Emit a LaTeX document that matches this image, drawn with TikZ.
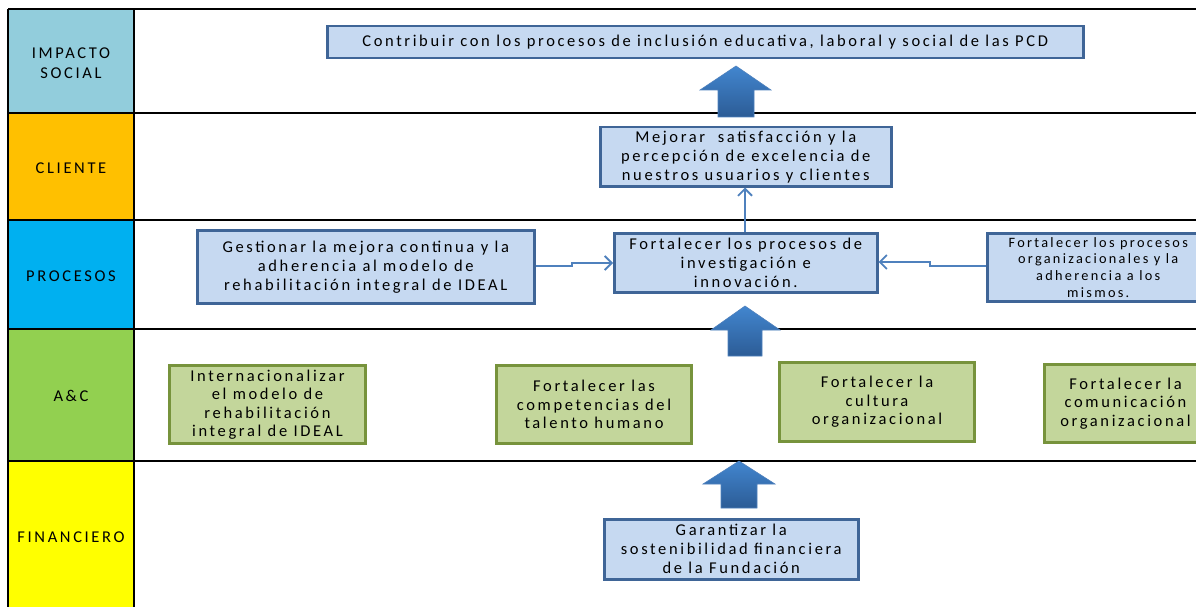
\documentclass[tikz,border=0pt]{standalone}
\usepackage{fontspec}
\setmainfont{Carlito}[LetterSpace=16]
\newfontfamily\boxfont{Carlito}[LetterSpace=16]
\usetikzlibrary{arrows.meta}
\definecolor{impblue}{HTML}{92CDDC}
\definecolor{cliorange}{HTML}{FFC000}
\definecolor{procblue}{HTML}{00B0F0}
\definecolor{acgreen}{HTML}{92D050}
\definecolor{finyellow}{HTML}{FFFF00}
\definecolor{boxfill}{HTML}{C6D9F1}
\definecolor{boxline}{HTML}{3F6597}
\definecolor{gfill}{HTML}{C3D69B}
\definecolor{gline}{HTML}{77933C}
\definecolor{arrtop}{HTML}{4286CF}
\definecolor{arrbot}{HTML}{2C5C96}
\definecolor{conn}{HTML}{4F81BD}
\tikzset{
  lbl/.style={font=\fontsize{16.5}{20}\selectfont, align=center, text=black},
  bluebox/.style={draw=boxline, line width=2.5pt, fill=boxfill, inner sep=0pt, align=center,
    font=\boxfont\fontsize{16.5}{19}\selectfont, anchor=north west},
  greenbox/.style={draw=gline, line width=3pt, fill=gfill, inner sep=0pt, align=center,
    font=\boxfont\fontsize{16.5}{18.5}\selectfont, anchor=north west},
  grid/.style={line width=1.8pt, black},
  conline/.style={draw=conn, line width=1.8pt, -{Straight Barb[length=7pt,width=14pt,line width=1.8pt]}},
  blockarrow/.style={top color=arrtop, bottom color=arrbot, draw=conn, line width=0.6pt},
}
\begin{document}
\begin{tikzpicture}[x=1pt,y=-1pt]
\useasboundingbox (0,0) rectangle (1196,607);
\clip (0,0) rectangle (1196,607);
% left column fills
\fill[impblue] (8,9) rectangle (134,113);
\fill[cliorange] (8,113) rectangle (134,220);
\fill[procblue] (8,220) rectangle (134,329);
\fill[acgreen] (8,329) rectangle (134,461);
\fill[finyellow] (8,461) rectangle (134,610);
% grid lines
\foreach \yy in {9,113,220,329,461} \draw[grid] (8,\yy) -- (1200,\yy);
\draw[grid] (8,9) -- (8,610);
\draw[grid] (134,9) -- (134,610);
% labels
\node[lbl] (limp) at (71,63) {IMPACTO\\SOCIAL};
\node[lbl] (lcli) at (71,168) {CLIENTE};
\node[lbl] (lpro) at (71,276) {PROCESOS};
\node[lbl] (lac) at (71,396) {A\&C};
\node[lbl] (lfin) at (71,537) {FINANCIERO};
% blue boxes
\node[bluebox, minimum width=756pt, minimum height=32pt] (contrib) at (326,25)
  {Contribuir con los procesos de inclusión educativa, laboral y social de las PCD};
\node[bluebox, minimum width=291pt, minimum height=59pt] (mejorar) at (599,126)
  {Mejorar\ \ satisfacción y la\\percepción de excelencia de\\nuestros usuarios y clientes};
\node[bluebox, minimum width=337pt, minimum height=73pt] (gest) at (196,229)
  {Gestionar la mejora continua y la\\adherencia al modelo de\\rehabilitación integral de IDEAL};
\node[bluebox, minimum width=263pt, minimum height=59pt] (inv) at (613,232)
  {Fortalecer los procesos de\\investigación e\\innovación.};
\node[bluebox, minimum width=222pt, minimum height=68pt,
  font=\boxfont\fontsize{14.3}{16.7}\selectfont] (org) at (986,232)
  {Fortalecer los procesos\\organizacionales y la\\adherencia a los\\mismos.};
\node[bluebox, minimum width=254pt, minimum height=60pt] (gar) at (603,518)
  {Garantizar la\\sostenibilidad financiera\\de la Fundación};
% green boxes
\node[greenbox, minimum width=196pt, minimum height=78pt] (intl) at (168,364)
  {Internacionalizar\\el modelo de\\rehabilitación\\integral de IDEAL};
\node[greenbox, minimum width=195pt, minimum height=78pt] (talento) at (495,364)
  {Fortalecer las\\competencias del\\talento humano};
\node[greenbox, minimum width=195pt, minimum height=79pt] (cultura) at (778,361)
  {Fortalecer la\\cultura\\organizacional};
\node[greenbox, minimum width=162pt, minimum height=78pt] (comun) at (1043,363)
  {Fortalecer la\\comunicación\\organizacional};
% connectors
\coordinate (g1) at (572,266);
\coordinate (g2) at (572,263);
\draw[conline] (gest.east |- g1) -- (g1) -- (g2) -- (inv.west |- g2);
\coordinate (o1) at (930,266);
\coordinate (o2) at (930,262);
\draw[conline] (org.west |- o1) -- (o1) -- (o2) -- (inv.east |- o2);
\draw[conline] (inv.north -| 745,0) -- (mejorar.south -| 745,0);
% block arrows
\shade[blockarrow] (736,66) -- (771,90) -- (754,90) -- (754,117) -- (718,117) -- (718,90) -- (700,90) -- cycle;
\shade[blockarrow] (745,306) -- (780,330) -- (762,330) -- (762,356) -- (728,356) -- (728,330) -- (711,330) -- cycle;
\shade[blockarrow] (739,461) -- (775,484) -- (757,484) -- (757,508) -- (721,508) -- (721,484) -- (703,484) -- cycle;
\end{tikzpicture}
\end{document}
